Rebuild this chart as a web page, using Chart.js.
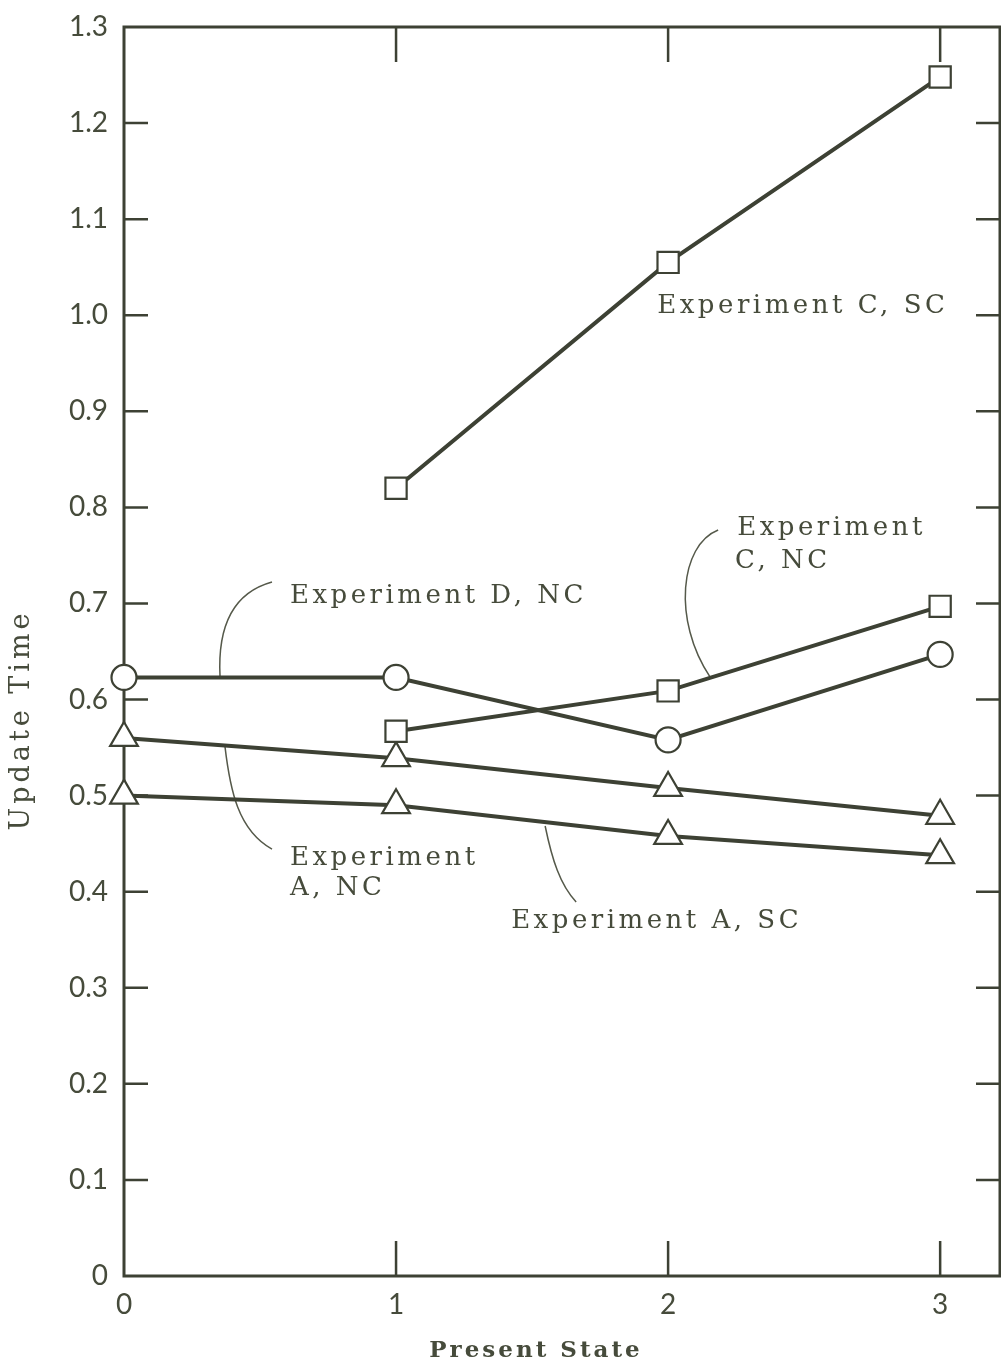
<!DOCTYPE html>
<html lang="en">
<head>
    <meta charset="UTF-8">
    <title>Update Time vs Present State</title>
    <style>
        html, body { margin: 0; padding: 0; background: #ffffff; }
        #wrap { width: 1001px; height: 1365px; }
    </style>
</head>
<body>
    <div id="wrap"><canvas id="chart" width="1001" height="1365"></canvas></div>
</body>
<script src="https://cdn.jsdelivr.net/npm/chart.js"></script>
<script>
    // values
    const states = [0, 1, 2, 3]
    const expCSC = [null, 0.82, 1.055, 1.248]
    const expCNC = [null, 0.567, 0.609, 0.697]
    const expDNC = [0.623, 0.623, 0.558, 0.647]
    const expANC = [0.56, 0.539, 0.508, 0.479]
    const expASC = [0.50, 0.49, 0.458, 0.438]

    const xTicks = [0, 1, 2, 3]
    const xTickLabels = ['0', '1', '2', '3']
    const yTicks = [0, 0.1, 0.2, 0.3, 0.4, 0.5, 0.6, 0.7, 0.8, 0.9, 1.0, 1.1, 1.2, 1.3]
    const yTickLabels = ['0', '0.1', '0.2', '0.3', '0.4', '0.5', '0.6', '0.7', '0.8', '0.9', '1.0', '1.1', '1.2', '1.3']

    const ink = '#3d4134'
    const textInk = '#464b3b'

    // labels placed in data units (left edge, middle)
    const notes = [
        {text: 'Experiment C, SC', x: 1.96, y: 1.0096},
        {text: 'Experiment D, NC', x: 0.61, y: 0.707},
        {text: 'Experiment', x: 2.254, y: 0.7785},
        {text: 'C, NC', x: 2.246, y: 0.744},
        {text: 'Experiment', x: 0.61, y: 0.435},
        {text: 'A, NC', x: 0.61, y: 0.404},
        {text: 'Experiment A, SC', x: 1.423, y: 0.3695}
    ]
    // leader curves, cubic bezier in data units
    const leaders = [
        [[0.544, 0.7223], [0.371, 0.7088], [0.346, 0.6621], [0.353, 0.6236]],
        [[2.184, 0.7765], [2.044, 0.7609], [2.015, 0.6828], [2.154, 0.6236]],
        [[0.371, 0.5516], [0.390, 0.5058], [0.419, 0.4642], [0.544, 0.4444]],
        [[1.548, 0.4684], [1.574, 0.4330], [1.603, 0.4070], [1.662, 0.3893]]
    ]

    function series(label, values, style, radius){
        return {
            label: label,
            data: states.map((s, i) => ({x: s, y: values[i]})),
            borderColor: ink,
            borderWidth: 4,
            pointStyle: style,
            pointRadius: radius,
            pointBorderWidth: 2.2,
            pointBorderColor: ink,
            pointBackgroundColor: '#ffffff',
            tension: 0,
            spanGaps: false,
            clip: false
        }
    }

    const frame = {
        id: 'frame',
        beforeDatasetsDraw(chart){
            const ctx = chart.ctx
            const a = chart.chartArea
            const xs = chart.scales.x, ys = chart.scales.y
            ctx.save()
            ctx.strokeStyle = ink
            ctx.lineWidth = 3
            ctx.strokeRect(a.left, a.top, a.right - a.left, a.bottom - a.top)
            ctx.lineWidth = 2.5
            ctx.beginPath()
            for(let v of xTicks.slice(1)){
                const px = xs.getPixelForValue(v)
                ctx.moveTo(px, a.bottom); ctx.lineTo(px, a.bottom - 35)
                ctx.moveTo(px, a.top); ctx.lineTo(px, a.top + 35)
            }
            for(let v of yTicks.slice(1, -1)){
                const py = ys.getPixelForValue(v)
                ctx.moveTo(a.left, py); ctx.lineTo(a.left + 24, py)
                ctx.moveTo(a.right, py); ctx.lineTo(a.right - 24, py)
            }
            ctx.stroke()

            // leader lines
            ctx.lineWidth = 1.5
            ctx.strokeStyle = '#55594a'
            for(let l of leaders){
                const p = l.map(q => [xs.getPixelForValue(q[0]), ys.getPixelForValue(q[1])])
                ctx.beginPath()
                ctx.moveTo(p[0][0], p[0][1])
                ctx.bezierCurveTo(p[1][0], p[1][1], p[2][0], p[2][1], p[3][0], p[3][1])
                ctx.stroke()
            }

            // labels
            ctx.fillStyle = textInk
            ctx.font = '26px "DejaVu Serif"'
            ctx.letterSpacing = '3.5px'
            ctx.textBaseline = 'middle'
            ctx.textAlign = 'left'
            for(let n of notes){
                ctx.fillText(n.text, xs.getPixelForValue(n.x), ys.getPixelForValue(n.y))
            }

            // axis titles
            ctx.font = 'bold 23px "DejaVu Serif"'
            ctx.letterSpacing = '3px'
            ctx.textAlign = 'center'
            ctx.fillText('Present State', 536, 1351)
            ctx.translate(22, 720)
            ctx.rotate(-Math.PI / 2)
            ctx.font = '27px "DejaVu Serif"'
            ctx.letterSpacing = '4px'
            ctx.fillText('Update Time', 0, 0)
            ctx.restore()
        }
    }

    const config = {
        type: 'line',
        data: {
            datasets: [
                series('Experiment C, SC', expCSC, 'rect', 15),
                series('Experiment C, NC', expCNC, 'rect', 15),
                series('Experiment D, NC', expDNC, 'circle', 12.5),
                series('Experiment A, NC', expANC, 'triangle', 16),
                series('Experiment A, SC', expASC, 'triangle', 16)
            ]
        },
        options: {
            responsive: false,
            animation: false,
            layout: {autoPadding: false, padding: {top: 27, right: 1, left: 0, bottom: 0}},
            plugins: {legend: {display: false}, tooltip: {enabled: false}},
            scales: {
                x: {
                    type: 'linear',
                    min: 0,
                    max: 3.22,
                    afterBuildTicks: s => { s.ticks = xTicks.map(v => ({value: v})) },
                    afterFit: s => { s.height = 89; s.paddingLeft = 0; s.paddingRight = 0 },
                    grid: {display: false, drawTicks: false},
                    border: {display: false},
                    ticks: {
                        padding: 12,
                        color: textInk,
                        font: {family: 'Lato', size: 28},
                        callback: (v) => xTickLabels[xTicks.indexOf(v)]
                    }
                },
                y: {
                    type: 'linear',
                    min: 0,
                    max: 1.3,
                    afterBuildTicks: s => { s.ticks = yTicks.map(v => ({value: v})) },
                    afterFit: s => { s.width = 124; s.paddingTop = 0; s.paddingBottom = 0 },
                    grid: {display: false, drawTicks: false},
                    border: {display: false},
                    ticks: {
                        padding: 16,
                        color: textInk,
                        font: {family: 'Lato', size: 28},
                        callback: (v) => yTickLabels[yTicks.indexOf(v)]
                    }
                }
            }
        },
        plugins: [frame]
    }

    const chart = new Chart(document.getElementById('chart'), config)
</script>
</html>
